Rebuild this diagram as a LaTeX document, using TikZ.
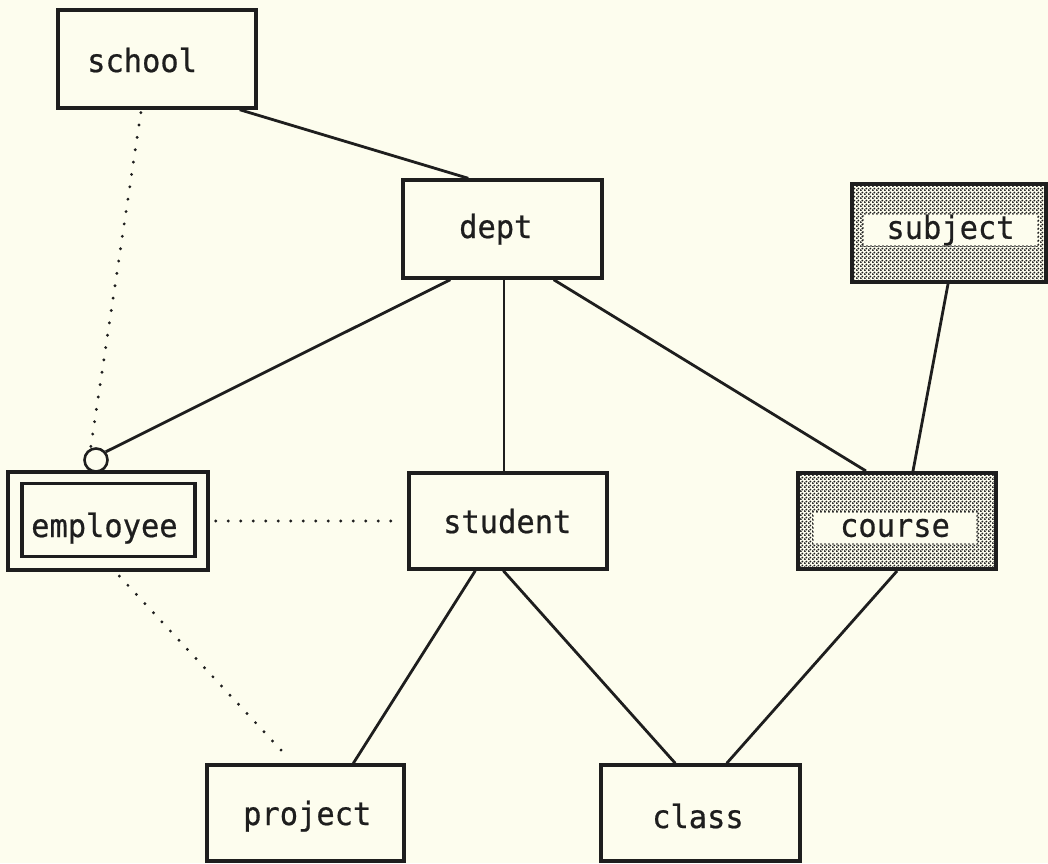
\documentclass[tikz,border=0pt]{standalone}
\usepackage{fontspec}
\usetikzlibrary{patterns}
\newfontfamily\boxfont[FakeStretch=0.95,FakeBold=0.6]{DejaVu Sans Mono}
\definecolor{paper}{RGB}{253,253,238}
\definecolor{ink}{RGB}{30,30,30}
% stipple fill for the shaded entity boxes
\pgfdeclarepatternformonly{stipple}{\pgfqpoint{0pt}{0pt}}{\pgfqpoint{4pt}{4pt}}{\pgfqpoint{4pt}{4pt}}{%
  \pgfpathcircle{\pgfqpoint{1pt}{1pt}}{1.25pt}%
  \pgfpathcircle{\pgfqpoint{3pt}{3pt}}{1.25pt}%
  \pgfusepath{fill}}
\tikzset{
  entity/.style={draw=ink, line width=3.4pt, inner sep=0pt, fill=paper},
  shaded/.style={draw=ink, line width=4pt, inner sep=0pt, pattern=stipple, pattern color=ink},
  tag/.style={fill=paper, draw=ink, line width=1.8pt, dash pattern=on 0pt off 4pt, line cap=round,
    inner sep=0pt, font=\boxfont\fontsize{32}{34}\selectfont, text=ink},
  label/.style={anchor=base west, inner sep=0pt, font=\boxfont\fontsize{32}{34}\selectfont, text=ink},
  link/.style={draw=ink, line width=2.8pt},
  weak/.style={draw=ink, line width=3.2pt, dash pattern=on 0pt off 12.5pt, line cap=round},
}
\begin{document}
\begin{tikzpicture}[x=1pt, y=-1pt]
  \fill[paper] (0,0) rectangle (1048,863);
  \useasboundingbox (0,0) rectangle (1048,863);

  % entity boxes
  \node[entity, minimum width=198pt, minimum height=98pt] (school)  at (157,59) {};
  \node[entity, minimum width=199pt, minimum height=98pt] (dept)    at (502.5,229) {};
  \node[entity, minimum width=198pt, minimum height=96pt] (student) at (508,521) {};
  \node[entity, minimum width=197pt, minimum height=96pt] (project) at (305.5,813) {};
  \node[entity, minimum width=199pt, minimum height=96pt] (class)   at (700.5,813) {};

  % employee: double-bordered box
  \node[entity, minimum width=200pt, minimum height=98pt] (employee) at (108,521) {};
  \node[entity, minimum width=173pt, minimum height=73pt] (employeein) at (108.5,520) {};

  % shaded boxes with a cleared text area
  \node[shaded, minimum width=194pt, minimum height=98pt] (subject) at (949,233) {};
  \node[shaded, minimum width=198pt, minimum height=96pt] (course)  at (897,521) {};
  \node[tag, minimum width=175pt, minimum height=32pt] (subjecttag) at (950.5,230) {subject};
  \node[tag, minimum width=164pt, minimum height=32pt] (coursetag)  at (895,528) {course};

  % box texts
  \node[label] (schooltxt)   at (87,72)   {school};
  \node[label] (depttxt)     at (459,238) {dept};
  \node[label] (studenttxt)  at (443,533) {student};
  \node[label] (employeetxt) at (31,537)  {employee};
  \node[label] (projecttxt)  at (243,825) {project};
  \node[label] (classtxt)    at (652,828) {class};

  % small circle on top of employee
  \node[circle, draw=ink, line width=2.6pt, fill=paper, minimum size=23pt, inner sep=0pt] (ring) at (96,460) {};

  % solid connectors
  \draw[link] ([xshift=-18pt]school.south east) -- ([xshift=67pt]dept.north west);
  \draw[link] ([xshift=49pt]dept.south west) -- (ring.40);
  \draw[link] ([xshift=1.5pt]dept.south) -- ([xshift=-4pt]student.north);
  \draw[link] ([xshift=-50pt]dept.south east) -- ([xshift=70pt]course.north west);
  \draw[link] ([xshift=-1pt]subject.south) -- ([xshift=117pt]course.north west);
  \draw[link] ([xshift=68pt]student.south west) -- ([xshift=148pt]project.north west);
  \draw[link] ([xshift=96pt]student.south west) -- ([xshift=76pt]class.north west);
  \draw[link] (course.south) -- ([xshift=-75pt]class.north east);

  % dotted connectors
  \draw[weak, shorten <=3pt] ([xshift=85pt]school.south west) -- (ring.115);
  \draw[weak, shorten <=6pt, shorten >=6pt] (employee.east) -- (student.west);
  \draw[weak, shorten <=6pt, shorten >=8pt] ([xshift=109pt]employee.south west) -- ([xshift=88pt]project.north west);
\end{tikzpicture}
\end{document}
